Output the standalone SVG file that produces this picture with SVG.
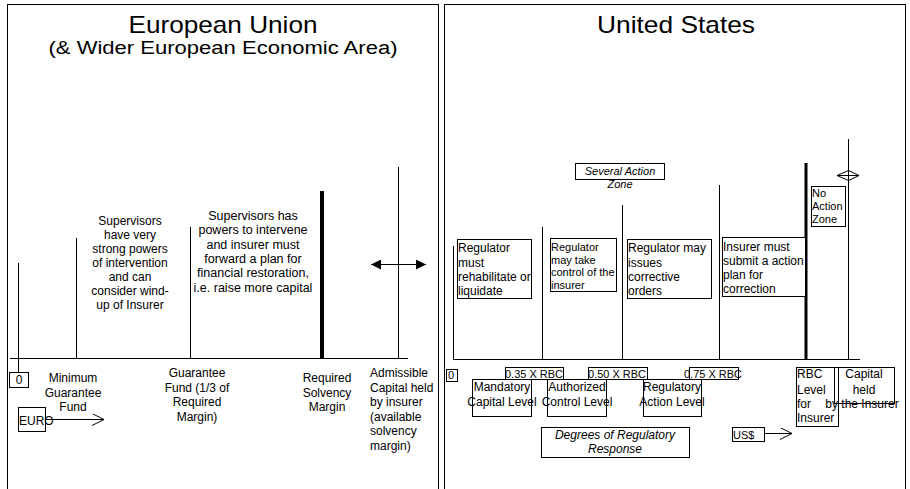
<svg xmlns="http://www.w3.org/2000/svg" width="910" height="489" viewBox="0 0 910 489">
<style>
text{font-family:"Liberation Sans",Arial,sans-serif;fill:#000}
.t{font-size:24px}
.s{font-size:18px}
.m{font-size:12px}
.sm{font-size:11px}
.c{text-anchor:middle}
.i{font-style:italic}
.ln{stroke:#000;stroke-width:1;fill:none}
.th{stroke:#000;stroke-width:4;fill:none}
.bx{stroke:#000;stroke-width:1;fill:#fff}
.bxn{stroke:#000;stroke-width:1;fill:none}
</style>
<defs>
<marker id="fa" viewBox="0 0 10 10" refX="10" refY="5" markerWidth="10" markerHeight="10" markerUnits="userSpaceOnUse" orient="auto-start-reverse">
<path d="M0,0 L10,5 L0,10 Z" fill="#000"/>
</marker>
<marker id="oa" viewBox="0 0 12 12" refX="12" refY="6" markerWidth="12" markerHeight="12" markerUnits="userSpaceOnUse" orient="auto">
<path d="M0,0 L12,6 L0,12" fill="none" stroke="#000" stroke-width="1"/>
</marker>
</defs>
<rect width="910" height="489" fill="#fff"/>

<g id="eu-panel">
<rect x="7.5" y="4.5" width="431" height="495" class="bxn"/>
<text class="t c" x="223" y="33" textLength="189" lengthAdjust="spacingAndGlyphs">European Union</text>
<text class="s c" x="223" y="54" textLength="349" lengthAdjust="spacingAndGlyphs">(&amp; Wider European Economic Area)</text>
</g>

<g id="us-panel">
<rect x="444.5" y="4.5" width="461" height="495" class="bxn"/>
<text class="t c" x="676" y="33" textLength="158" lengthAdjust="spacingAndGlyphs">United States</text>
</g>

<g id="connectors">
<!-- EU axis and markers -->
<line class="ln" x1="10" y1="358.5" x2="408" y2="358.5"/>
<line class="ln" x1="18.5" y1="263" x2="18.5" y2="372"/>
<line class="ln" x1="76.5" y1="238" x2="76.5" y2="358"/>
<line class="ln" x1="190.5" y1="227" x2="190.5" y2="358"/>
<line class="th" x1="322" y1="191" x2="322" y2="358"/>
<line class="ln" x1="398.5" y1="167" x2="398.5" y2="358"/>
<line class="ln" x1="371" y1="264.5" x2="426" y2="264.5" marker-start="url(#fa)" marker-end="url(#fa)"/>
<line class="ln" x1="45" y1="419.5" x2="104" y2="419.5" marker-end="url(#oa)"/>
<!-- US axis and markers -->
<line class="ln" x1="453" y1="359.5" x2="860" y2="359.5"/>
<line class="ln" x1="453.5" y1="246" x2="453.5" y2="359"/>
<line class="ln" x1="542.5" y1="227" x2="542.5" y2="359"/>
<line class="ln" x1="622.5" y1="205" x2="622.5" y2="359"/>
<line class="ln" x1="719.5" y1="185" x2="719.5" y2="359"/>
<line class="th" x1="806" y1="163" x2="806" y2="359" style="stroke-width:3"/>
<line class="ln" x1="848.5" y1="139" x2="848.5" y2="359"/>
<path class="ln" d="M837,175.5 L848.5,170.5 L859,175.5 L848.5,180.5 Z M837,175.5 L859,175.5"/>
<line class="ln" x1="764" y1="433.5" x2="792" y2="433.5" marker-end="url(#oa)"/>
</g>

<g id="eu-zone1">
<text class="m c" x="130"><tspan x="130" y="225">Supervisors</tspan><tspan x="130" y="239">have very</tspan><tspan x="130" y="253">strong powers</tspan><tspan x="130" y="267">of intervention</tspan><tspan x="130" y="281">and can</tspan><tspan x="130" y="295">consider wind-</tspan><tspan x="130" y="309">up of Insurer</tspan></text>
</g>
<g id="eu-zone2">
<text class="m c" x="253" style="font-size:12.5px"><tspan x="253" y="220">Supervisors has</tspan><tspan x="253" y="234.3">powers to intervene</tspan><tspan x="253" y="248.6">and insurer must</tspan><tspan x="253" y="262.9">forward a plan for</tspan><tspan x="253" y="277.2">financial restoration,</tspan><tspan x="253" y="291.5">i.e. raise more capital</tspan></text>
</g>
<g id="eu-zero">
<rect class="bx" x="9.5" y="372.5" width="19" height="15"/>
<text class="m c" x="19" y="384">0</text>
</g>
<g id="eu-mgf">
<text class="m c"><tspan x="73" y="382">Minimum</tspan><tspan x="73" y="396.5">Guarantee</tspan><tspan x="73" y="411">Fund</tspan></text>
</g>
<g id="eu-euro">
<rect class="bxn" x="18.5" y="407.5" width="27" height="24"/>
<text class="m" x="19" y="425">EURO</text>
</g>
<g id="eu-gf">
<text class="m c"><tspan x="197" y="377">Guarantee</tspan><tspan x="197" y="391.5">Fund (1/3 of</tspan><tspan x="197" y="406">Required</tspan><tspan x="197" y="420.5">Margin)</tspan></text>
</g>
<g id="eu-rsm">
<text class="m c"><tspan x="327" y="382">Required</tspan><tspan x="327" y="396.5">Solvency</tspan><tspan x="327" y="411">Margin</tspan></text>
</g>
<g id="eu-acap">
<text class="m"><tspan x="370" y="377">Admissible</tspan><tspan x="370" y="391.5">Capital held</tspan><tspan x="370" y="406">by insurer</tspan><tspan x="370" y="420.5">(available</tspan><tspan x="370" y="435">solvency</tspan><tspan x="370" y="449.5">margin)</tspan></text>
</g>

<g id="us-several">
<rect class="bx" x="575.5" y="163.5" width="89" height="16"/>
<text class="sm c i"><tspan x="620" y="175">Several Action</tspan><tspan x="620" y="188">Zone</tspan></text>
</g>
<g id="us-rehab">
<rect class="bx" x="457.5" y="239.5" width="74" height="59"/>
<text class="m"><tspan x="458" y="252">Regulator</tspan><tspan x="458" y="266.5">must</tspan><tspan x="458" y="281">rehabilitate or</tspan><tspan x="458" y="295">liquidate</tspan></text>
</g>
<g id="us-control">
<rect class="bx" x="550.5" y="238.5" width="66" height="53"/>
<text class="sm"><tspan x="551" y="251">Regulator</tspan><tspan x="551" y="263.7">may take</tspan><tspan x="551" y="276.4">control of the</tspan><tspan x="551" y="289">insurer</tspan></text>
</g>
<g id="us-corrective">
<rect class="bx" x="627.5" y="239.5" width="84" height="59"/>
<text class="m"><tspan x="628" y="252">Regulator may</tspan><tspan x="628" y="266.5">issues</tspan><tspan x="628" y="281">corrective</tspan><tspan x="628" y="295">orders</tspan></text>
</g>
<g id="us-plan">
<rect class="bx" x="722.5" y="237.5" width="83" height="59"/>
<text class="m"><tspan x="723" y="251">Insurer must</tspan><tspan x="723" y="265">submit a action</tspan><tspan x="723" y="279">plan for</tspan><tspan x="723" y="293">correction</tspan></text>
</g>
<g id="us-noaction">
<rect class="bx" x="811.5" y="186.5" width="34" height="40"/>
<text class="sm"><tspan x="812" y="197">No</tspan><tspan x="812" y="210">Action</tspan><tspan x="812" y="223">Zone</tspan></text>
</g>
<g id="us-zero">
<rect class="bx" x="446.5" y="369.5" width="11" height="12"/>
<text class="sm" x="448" y="379">0</text>
</g>
<g id="us-035">
<rect class="bx" x="505.5" y="367.5" width="58" height="12"/>
<text class="sm c" x="534" y="378">0.35 X RBC</text>
</g>
<g id="us-050">
<rect class="bx" x="588.5" y="367.5" width="59" height="12"/>
<text class="sm c" x="617" y="378">0.50 X RBC</text>
</g>
<g id="us-075">
<rect class="bx" x="689.5" y="367.5" width="49" height="12"/>
<text class="sm c" x="713" y="378">0.75 X RBC</text>
</g>
<g id="us-mcl">
<rect class="bxn" x="472.5" y="379.5" width="59" height="37"/>
<text class="m c"><tspan x="502" y="391">Mandatory</tspan><tspan x="502" y="406">Capital Level</tspan></text>
</g>
<g id="us-acl">
<rect class="bxn" x="547.5" y="379.5" width="59" height="37"/>
<text class="m c"><tspan x="577" y="391">Authorized</tspan><tspan x="577" y="406">Control Level</tspan></text>
</g>
<g id="us-ral">
<rect class="bxn" x="643.5" y="379.5" width="58" height="37"/>
<text class="m c"><tspan x="672" y="391">Regulatory</tspan><tspan x="672" y="406">Action Level</tspan></text>
</g>
<g id="us-degrees">
<rect class="bx" x="541.5" y="427.5" width="148" height="30"/>
<text class="m c i"><tspan x="615" y="439">Degrees of Regulatory</tspan><tspan x="615" y="453">Response</tspan></text>
</g>
<g id="us-usd">
<rect class="bx" x="732.5" y="427.5" width="32" height="14"/>
<text class="sm" x="733" y="439">US$</text>
</g>
<g id="us-rbc">
<rect class="bx" x="796.5" y="367.5" width="42" height="59"/>
<text class="m"><tspan x="797" y="378">RBC</tspan><tspan x="797" y="393.5">Level</tspan><tspan x="797" y="408">for</tspan><tspan x="797" y="422">Insurer</tspan></text>
</g>
<g id="us-capital">
<rect class="bxn" x="834.5" y="367.5" width="60" height="36"/>
<text class="m c"><tspan x="864" y="378">Capital</tspan><tspan x="864" y="393.5">held</tspan><tspan x="862" y="408">by the Insurer</tspan></text>
</g>
</svg>
